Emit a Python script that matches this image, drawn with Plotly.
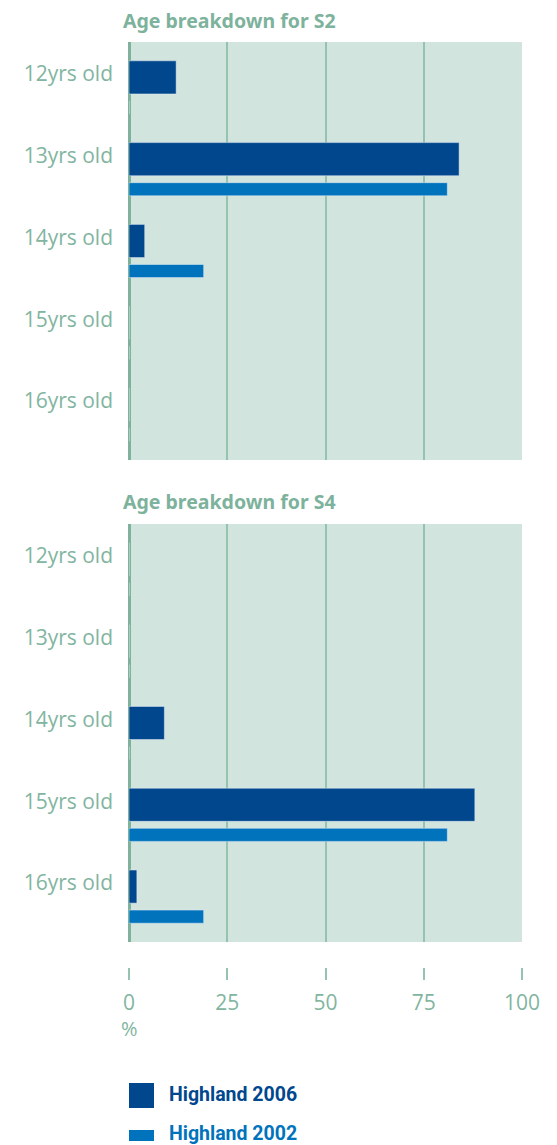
import plotly.graph_objects as go
from plotly.subplots import make_subplots

# age breakdown data (percent of pupils)
age_labels = ["12yrs old", "13yrs old", "14yrs old", "15yrs old", "16yrs old"]
s2_2006 = [12, 84, 4, 0, 0]
s2_2002 = [0, 81, 19, 0, 0]
s4_2006 = [0, 0, 9, 88, 2]
s4_2002 = [0, 0, 0, 81, 19]
x_ticks = [0, 25, 50, 75, 100]
panel_titles = ["Age breakdown for S2", "Age breakdown for S4"]
series_names = ["Highland 2006", "Highland 2002"]

DARK = "#00478e"
LIGHT = "#0073bc"
GREEN_TXT = "#82b5a0"
GRID = "#96c3af"
BG = "#d2e4de"
FONT = "Open Sans"

H = 1145
W = 557


def py(px):
    # pixel row -> paper fraction
    return 1 - px / H


fig = make_subplots(rows=2, cols=1)

pos = list(range(len(age_labels)))
for row, (v06, v02) in enumerate([(s2_2006, s2_2002), (s4_2006, s4_2002)], start=1):
    fig.add_trace(go.Bar(y=pos, x=v06, orientation="h", marker_color=DARK,
                         offset=-0.16, width=0.405, name=series_names[0],
                         showlegend=False), row=row, col=1)
    fig.add_trace(go.Bar(y=pos, x=v02, orientation="h", marker_color=LIGHT,
                         offset=0.33, width=0.16, name=series_names[1],
                         showlegend=False), row=row, col=1)

axis_common = dict(range=[0, 100], tickvals=x_ticks, showgrid=True, gridcolor=GRID,
                   gridwidth=2, zeroline=True, zerolinecolor="#7fb29d", zerolinewidth=3,
                   showline=False, fixedrange=True)

ycommon = dict(range=[4.72, -0.39], tickvals=pos, ticktext=age_labels, showgrid=False,
               zeroline=False, ticks="", ticklabelstandoff=15, tickfont=dict(size=21),
               fixedrange=True)

fig.update_layout(
    width=W, height=H,
    margin=dict(l=129, r=35, t=0, b=0),
    paper_bgcolor="white",
    plot_bgcolor=BG,
    font=dict(family=FONT, color=GREEN_TXT, size=17),
    barmode="overlay",
    xaxis=dict(domain=[0, 1], showticklabels=False, ticks="", **axis_common),
    xaxis2=dict(domain=[0, 1], anchor="free", position=py(967), side="bottom",
                ticks="outside", ticklen=12, tickwidth=2, tickcolor=GRID,
                ticklabelstandoff=5,
                tickfont=dict(size=21, color=GREEN_TXT), **axis_common),
    yaxis=dict(domain=[py(460), py(42)], **ycommon),
    yaxis2=dict(domain=[py(942), py(524)], **ycommon),
)

# panel titles
for title, ypx in zip(panel_titles, [20, 501]):
    fig.add_annotation(text="<b>" + title + "</b>", xref="paper", yref="paper",
                       x=-8 / 393, y=py(ypx), xanchor="left", yanchor="middle",
                       showarrow=False,
                       font=dict(family="Noto Sans", size=19.5, color="#7db29c"))

# % unit under axis
fig.add_annotation(text="%", xref="paper", yref="paper", x=0, y=py(1028),
                   xanchor="center", yanchor="middle", showarrow=False,
                   font=dict(size=20, color=GREEN_TXT))

# legend drawn by hand: thick square for 2006, thin bar for 2002
fig.add_shape(type="rect", xref="paper", yref="paper", x0=0, x1=25 / 393,
              y0=py(1108), y1=py(1083), fillcolor=DARK, line_width=0)
fig.add_shape(type="rect", xref="paper", yref="paper", x0=0, x1=25 / 393,
              y0=py(1141), y1=py(1130), fillcolor=LIGHT, line_width=0)
for name, color, ypx in [(series_names[0], DARK, 1094), (series_names[1], LIGHT, 1133)]:
    fig.add_annotation(text="<b>" + name + "</b>", xref="paper", yref="paper",
                       x=38 / 393, y=py(ypx), xanchor="left", yanchor="middle",
                       showarrow=False,
                       font=dict(family="Roboto", size=19.5, color=color))

fig.write_html("out.html", config={"displayModeBar": False},
               post_script="document.body.style.margin='0';")
